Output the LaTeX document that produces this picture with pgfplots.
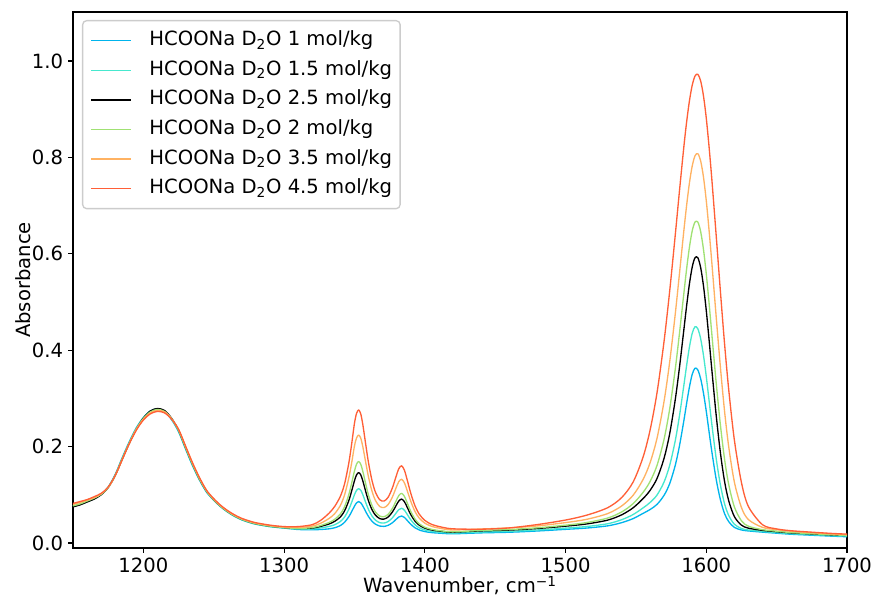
\documentclass[border=0pt]{standalone}
\usepackage{fontspec}
\setmainfont{DejaVu Sans}
\usepackage{pgfplots}
\pgfplotsset{compat=1.18}
\definecolor{cA}{RGB}{0,180,236}
\definecolor{cB}{RGB}{70,232,206}
\definecolor{cD}{RGB}{160,225,115}
\definecolor{cE}{RGB}{255,178,98}
\definecolor{cF}{RGB}{255,95,55}
\newcommand{\fs}{\fontsize{14.7}{17.6}\selectfont}
\begin{document}
\begin{tikzpicture}
\begin{axis}[
  at={(0pt,0pt)}, anchor=south west,
  scale only axis, width=580.5pt, height=402pt,
  xmin=1150, xmax=1700, ymin=-0.0104, ymax=1.1017,
  xtick={1200,1300,1400,1500,1600,1700},
  xticklabels={1200,1300,1400,1500,1600,1700},
  ytick={0,0.2,0.4,0.6,0.8,1.0},
  yticklabels={0.0,0.2,0.4,0.6,0.8,1.0},
  minor tick num=0,
  tick align=outside, major tick length=3.65pt,
  xtick pos=left, ytick pos=left,
  axis line style={line width=0.83pt},
  every tick/.style={black, line width=0.83pt},
  tick label style={font=\fs, inner sep=0pt},
  xticklabel style={yshift=-3.65pt},
  yticklabel style={xshift=-3.65pt},
  label style={font=\fs},
  xlabel={Wavenumber, cm\textsuperscript{−1}},
  ylabel={Absorbance},
  xlabel style={at={(axis description cs:0.5,0)}, anchor=base, yshift=-33.75pt},
  ylabel style={at={(axis description cs:-0.0555,0.5)}, anchor=base},
  every axis plot/.append style={line width=1pt, smooth, tension=0.5, line join=round},
  legend cell align=left,
  legend image code/.code={\draw[#1, line width=1.1pt] (0pt,0pt) -- (30pt,0pt);},
  legend style={at={(axis description cs:0.01163,0.98507)}, anchor=north west,
    draw=black!20, line width=1pt, rounded corners=3pt, fill=white,
    inner xsep=6pt, inner ysep=7.75pt, row sep=7.7pt, font=\fs,
    nodes={inner sep=0pt, text height=11pt, text depth=3.5pt},
    /tikz/every odd column/.append style={column sep=13pt}},
]
\addplot[cA] coordinates {
(1150,0.076)(1155,0.080)(1160,0.086)(1165,0.092)(1170,0.101)(1175,0.116)(1180,0.142)(1185,0.177)(1190,0.210)(1195,0.239)(1200,0.260)(1205,0.274)(1210,0.278)(1215,0.273)(1220,0.256)(1225,0.231)(1230,0.195)(1235,0.160)(1240,0.130)(1245,0.105)(1250,0.089)(1255,0.075)(1260,0.064)(1265,0.055)(1270,0.048)(1275,0.043)(1280,0.039)(1290,0.034)(1300,0.031)(1310,0.028)
(1320,0.0275)(1326,0.0280)(1332,0.0294)(1336,0.0316)(1340,0.0362)(1343,0.0431)(1346,0.0545)(1348,0.0650)(1350,0.0764)(1351.5,0.0832)(1353,0.0860)(1354.5,0.0833)(1356,0.0765)(1358,0.0652)(1360,0.0547)(1362.5,0.0450)(1365,0.0389)(1368,0.0351)(1371,0.0344)(1374,0.0367)(1377,0.0421)(1379.5,0.0488)(1381.5,0.0539)(1383.5,0.0560)(1385.5,0.0531)(1387.5,0.0468)(1390,0.0388)(1393,0.0316)(1396,0.0270)(1400,0.0237)(1405,0.0215)(1412,0.0201)(1420,0.0191)
(1440,0.0210)(1460,0.0223)(1480,0.0249)(1500,0.0283)(1515,0.0310)(1530,0.0356)(1540,0.0423)(1548,0.0506)(1555,0.0613)(1560,0.0693)(1565,0.0801)(1570,0.0989)(1574,0.1232)(1578,0.1617)(1581,0.2024)(1584,0.2526)(1586,0.2889)(1588,0.3232)(1590,0.3498)(1592,0.3628)(1594,0.3590)(1596,0.3410)(1598,0.3111)(1600,0.2732)(1602,0.2303)(1604,0.1886)(1607,0.1328)(1610,0.0903)(1613,0.0609)(1616,0.0440)(1620,0.0323)(1625,0.0270)(1630,0.0250)(1640,0.0225)(1650,0.0203)(1660,0.0182)(1675,0.0161)(1690,0.0141)(1700,0.0130)
};
\addlegendentry{HCOONa D\textsubscript{2}O 1 mol/kg}
\addplot[cB] coordinates {
(1150,0.077)(1155,0.081)(1160,0.086)(1165,0.092)(1170,0.101)(1175,0.116)(1180,0.141)(1185,0.176)(1190,0.209)(1195,0.238)(1200,0.260)(1205,0.273)(1210,0.278)(1215,0.273)(1220,0.257)(1225,0.232)(1230,0.196)(1235,0.161)(1240,0.131)(1245,0.106)(1250,0.089)(1255,0.075)(1260,0.064)(1265,0.055)(1270,0.048)(1275,0.043)(1280,0.039)(1290,0.034)(1300,0.031)(1310,0.029)
(1320,0.0290)(1326,0.0313)(1332,0.0344)(1336,0.0379)(1340,0.0446)(1343,0.0540)(1346,0.0698)(1348,0.0843)(1350,0.1001)(1351.5,0.1095)(1353,0.1130)(1354.5,0.1094)(1356,0.0998)(1358,0.0840)(1360,0.0693)(1362.5,0.0558)(1365,0.0473)(1368,0.0422)(1371,0.0414)(1374,0.0446)(1377,0.0523)(1379.5,0.0618)(1381.5,0.0691)(1383.5,0.0720)(1385.5,0.0680)(1387.5,0.0593)(1390,0.0481)(1393,0.0380)(1396,0.0316)(1400,0.0270)(1405,0.0241)(1412,0.0220)(1420,0.0208)
(1440,0.0228)(1460,0.0242)(1480,0.0270)(1500,0.0308)(1515,0.0342)(1530,0.0400)(1540,0.0484)(1548,0.0590)(1555,0.0726)(1560,0.0839)(1565,0.0995)(1570,0.1266)(1574,0.1611)(1578,0.2130)(1581,0.2649)(1584,0.3256)(1586,0.3677)(1588,0.4061)(1590,0.4350)(1592,0.4487)(1594,0.4444)(1596,0.4239)(1598,0.3895)(1600,0.3455)(1602,0.2953)(1604,0.2452)(1607,0.1762)(1610,0.1212)(1613,0.0813)(1616,0.0568)(1620,0.0388)(1625,0.0300)(1630,0.0269)(1640,0.0240)(1650,0.0217)(1660,0.0195)(1675,0.0173)(1690,0.0152)(1700,0.0142)
};
\addlegendentry{HCOONa D\textsubscript{2}O 1.5 mol/kg}
\addplot[black] coordinates {
(1150,0.075)(1155,0.079)(1160,0.085)(1165,0.091)(1170,0.100)(1175,0.115)(1180,0.140)(1185,0.174)(1190,0.207)(1195,0.236)(1200,0.259)(1205,0.274)(1210,0.279)(1215,0.275)(1220,0.259)(1225,0.234)(1230,0.198)(1235,0.163)(1240,0.132)(1245,0.107)(1250,0.090)(1255,0.076)(1260,0.065)(1265,0.056)(1270,0.049)(1275,0.044)(1280,0.040)(1290,0.035)(1300,0.032)(1310,0.030)
(1320,0.0310)(1326,0.0345)(1332,0.0395)(1336,0.0450)(1340,0.0540)(1343,0.0668)(1346,0.0880)(1348,0.1078)(1350,0.1290)(1351.5,0.1414)(1353,0.1460)(1354.5,0.1412)(1356,0.1283)(1358,0.1069)(1360,0.0871)(1362.5,0.0689)(1365,0.0575)(1368,0.0506)(1371,0.0496)(1374,0.0540)(1377,0.0645)(1379.5,0.0772)(1381.5,0.0871)(1383.5,0.0911)(1385.5,0.0857)(1387.5,0.0741)(1390,0.0590)(1393,0.0455)(1396,0.0370)(1400,0.0308)(1405,0.0269)(1412,0.0242)(1420,0.0225)
(1440,0.0251)(1460,0.0268)(1480,0.0301)(1500,0.0349)(1515,0.0395)(1530,0.0475)(1540,0.0586)(1548,0.0730)(1555,0.0918)(1560,0.1089)(1565,0.1339)(1570,0.1758)(1574,0.2267)(1578,0.2982)(1581,0.3654)(1584,0.4407)(1586,0.4913)(1588,0.5370)(1590,0.5724)(1592,0.5919)(1594,0.5918)(1596,0.5716)(1598,0.5337)(1600,0.4822)(1602,0.4213)(1604,0.3579)(1607,0.2662)(1610,0.1881)(1613,0.1277)(1616,0.0870)(1620,0.0546)(1625,0.0370)(1630,0.0307)(1640,0.0262)(1650,0.0235)(1660,0.0211)(1675,0.0188)(1690,0.0166)(1700,0.0155)
};
\addlegendentry{HCOONa D\textsubscript{2}O 2.5 mol/kg}
\addplot[cD] coordinates {
(1150,0.077)(1155,0.081)(1160,0.087)(1165,0.093)(1170,0.101)(1175,0.115)(1180,0.140)(1185,0.174)(1190,0.207)(1195,0.236)(1200,0.258)(1205,0.272)(1210,0.277)(1215,0.273)(1220,0.258)(1225,0.234)(1230,0.198)(1235,0.163)(1240,0.132)(1245,0.107)(1250,0.090)(1255,0.076)(1260,0.065)(1265,0.056)(1270,0.049)(1275,0.044)(1280,0.040)(1290,0.035)(1300,0.032)(1310,0.030)
(1320,0.0320)(1326,0.0362)(1332,0.0425)(1336,0.0492)(1340,0.0603)(1343,0.0755)(1346,0.1005)(1348,0.1240)(1350,0.1492)(1351.5,0.1637)(1353,0.1690)(1354.5,0.1632)(1356,0.1480)(1358,0.1226)(1360,0.0991)(1362.5,0.0775)(1365,0.0640)(1368,0.0558)(1371,0.0545)(1374,0.0596)(1377,0.0719)(1379.5,0.0868)(1381.5,0.0984)(1383.5,0.1030)(1385.5,0.0967)(1387.5,0.0832)(1390,0.0656)(1393,0.0498)(1396,0.0399)(1400,0.0327)(1405,0.0282)(1412,0.0250)(1420,0.0231)
(1440,0.0260)(1460,0.0279)(1480,0.0315)(1500,0.0369)(1515,0.0424)(1530,0.0518)(1540,0.0646)(1548,0.0816)(1555,0.1047)(1560,0.1272)(1565,0.1610)(1570,0.2153)(1574,0.2782)(1578,0.3617)(1581,0.4363)(1584,0.5162)(1586,0.5678)(1588,0.6131)(1590,0.6475)(1592,0.6660)(1594,0.6658)(1596,0.6462)(1598,0.6093)(1600,0.5584)(1602,0.4971)(1604,0.4318)(1607,0.3338)(1610,0.2459)(1613,0.1736)(1616,0.1206)(1620,0.0746)(1625,0.0460)(1630,0.0347)(1640,0.0276)(1650,0.0244)(1660,0.0217)(1675,0.0192)(1690,0.0169)(1700,0.0157)
};
\addlegendentry{HCOONa D\textsubscript{2}O 2 mol/kg}
\addplot[cE] coordinates {
(1150,0.080)(1155,0.084)(1160,0.089)(1165,0.094)(1170,0.102)(1175,0.115)(1180,0.140)(1185,0.174)(1190,0.207)(1195,0.236)(1200,0.257)(1205,0.270)(1210,0.275)(1215,0.272)(1220,0.258)(1225,0.235)(1230,0.200)(1235,0.165)(1240,0.134)(1245,0.108)(1250,0.091)(1255,0.077)(1260,0.066)(1265,0.057)(1270,0.050)(1275,0.045)(1280,0.041)(1290,0.036)(1300,0.033)(1310,0.032)
(1320,0.0350)(1326,0.0410)(1332,0.0510)(1336,0.0610)(1340,0.0780)(1343,0.1000)(1346,0.1350)(1348,0.1660)(1350,0.2011)(1351.5,0.2181)(1353,0.2240)(1354.5,0.2172)(1356,0.1990)(1358,0.1672)(1360,0.1365)(1362.5,0.1071)(1365,0.0877)(1368,0.0756)(1371,0.0735)(1374,0.0800)(1377,0.0956)(1379.5,0.1139)(1381.5,0.1273)(1383.5,0.1322)(1385.5,0.1247)(1387.5,0.1085)(1390,0.0866)(1393,0.0655)(1396,0.0517)(1400,0.0412)(1405,0.0344)(1412,0.0298)(1420,0.0270)
(1440,0.0290)(1460,0.0313)(1480,0.0354)(1500,0.0423)(1515,0.0491)(1530,0.0611)(1540,0.0771)(1548,0.0990)(1555,0.1313)(1560,0.1660)(1565,0.2173)(1570,0.2940)(1574,0.3757)(1578,0.4762)(1581,0.5603)(1584,0.6461)(1586,0.6997)(1588,0.7464)(1590,0.7821)(1592,0.8034)(1594,0.8077)(1596,0.7928)(1598,0.7593)(1600,0.7102)(1602,0.6482)(1604,0.5796)(1607,0.4708)(1610,0.3662)(1613,0.2731)(1616,0.1985)(1620,0.1259)(1625,0.0735)(1630,0.0484)(1640,0.0324)(1650,0.0276)(1660,0.0244)(1675,0.0213)(1690,0.0186)(1700,0.0173)
};
\addlegendentry{HCOONa D\textsubscript{2}O 3.5 mol/kg}
\addplot[cF] coordinates {
(1150,0.082)(1155,0.086)(1160,0.090)(1165,0.096)(1170,0.103)(1175,0.116)(1180,0.140)(1185,0.173)(1190,0.206)(1195,0.234)(1200,0.255)(1205,0.268)(1210,0.273)(1215,0.270)(1220,0.257)(1225,0.236)(1230,0.201)(1235,0.166)(1240,0.135)(1245,0.109)(1250,0.092)(1255,0.078)(1260,0.067)(1265,0.058)(1270,0.051)(1275,0.046)(1280,0.042)(1290,0.037)(1300,0.034)(1310,0.034)
(1320,0.0380)(1326,0.0470)(1332,0.0620)(1336,0.0760)(1340,0.0970)(1343,0.1230)(1346,0.1660)(1348,0.2050)(1350,0.2483)(1351.5,0.2690)(1353,0.2760)(1354.5,0.2675)(1356,0.2446)(1358,0.2047)(1360,0.1662)(1362.5,0.1292)(1365,0.1048)(1368,0.0897)(1371,0.0870)(1374,0.0951)(1377,0.1146)(1379.5,0.1374)(1381.5,0.1540)(1383.5,0.1602)(1385.5,0.1509)(1387.5,0.1307)(1390,0.1034)(1393,0.0772)(1396,0.0600)(1400,0.0469)(1405,0.0385)(1412,0.0329)(1420,0.0294)
(1440,0.0286)(1460,0.0313)(1480,0.0382)(1500,0.0476)(1515,0.0577)(1530,0.0733)(1540,0.0946)(1548,0.1264)(1555,0.1774)(1560,0.2332)(1565,0.3118)(1570,0.4185)(1574,0.5228)(1578,0.6402)(1581,0.7320)(1584,0.8201)(1586,0.8727)(1588,0.9167)(1590,0.9496)(1592,0.9689)(1594,0.9725)(1596,0.9587)(1598,0.9278)(1600,0.8814)(1602,0.8213)(1604,0.7527)(1607,0.6395)(1610,0.5236)(1613,0.4131)(1616,0.3167)(1620,0.2128)(1625,0.1253)(1630,0.0754)(1640,0.0378)(1650,0.0292)(1660,0.0255)(1675,0.0224)(1690,0.0197)(1700,0.0184)
};
\addlegendentry{HCOONa D\textsubscript{2}O 4.5 mol/kg}
\end{axis}
\pgfresetboundingbox
\path[use as bounding box] (-54.75pt,-37.5pt) rectangle (603pt,411pt);
\end{tikzpicture}
\end{document}
